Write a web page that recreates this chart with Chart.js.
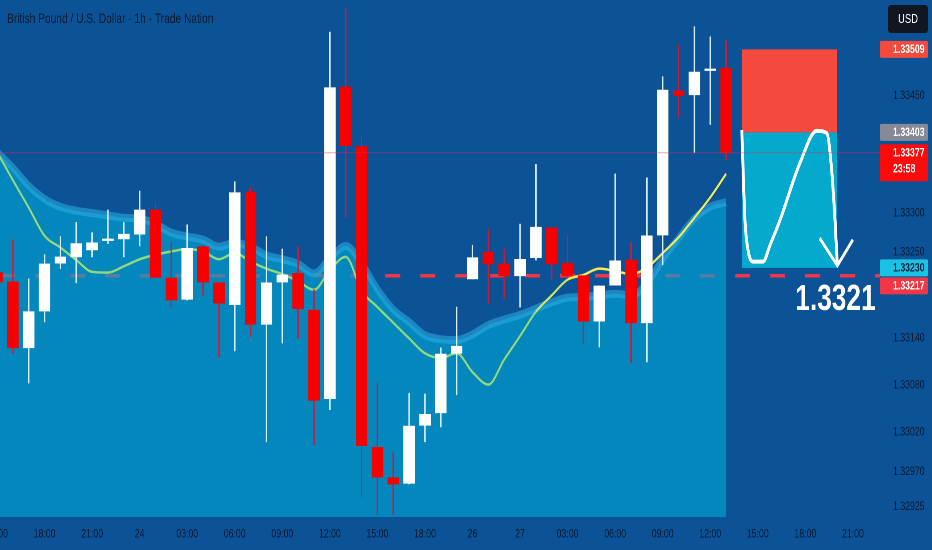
<!DOCTYPE html>
<html>
<head>
<meta charset="utf-8">
<script src="https://cdn.jsdelivr.net/npm/chart.js@4.4.1/dist/chart.umd.min.js"></script>
<style>
  html, body { margin: 0; padding: 0; background: #0b5296; overflow: hidden; width: 932px; height: 550px; }
  /* the chart is laid out on a wider canvas and squeezed to 932px, like the screenshot */
  #wrap { width: 1280px; height: 550px; position: relative; transform: scaleX(0.728125); transform-origin: 0 0; }
</style>
</head>
<body>
<div id="wrap"><canvas id="chart"></canvas></div>
<script>
const SX = 932 / 1280;
const wide = v => v / SX;
const FONT = '"Liberation Sans", Arial, sans-serif';

const titleText = 'British Pound / U.S. Dollar · 1h · Trade Nation';

// one candle per hour, index along the time axis
const candleIdx = [0,1,2,3,4,5,6,7,8,9,10,11,12,13,14,15,16,17,18,19,20,21,22,23,24,25,26,27,28,29,30,31,32,33,34,35,36,37,38,39,40,41,42,43,44,45,46];

const opens = [1.33224,1.33212,1.33128,1.33175,1.33236,1.33244,1.33253,1.33265,1.33267,1.33273,
  1.33304,1.33217,1.33190,1.33257,1.33211,1.33183,1.33327,1.33158,1.33212,1.33223,
  1.33176,1.33063,1.33461,1.33385,1.33001,1.32962,1.32955,1.33029,1.33045,1.33121,
  1.33216,1.33250,1.33235,1.33220,1.33243,1.33281,1.33236,1.33220,1.33162,1.33208,
  1.33240,1.33160,1.33272,1.33456,1.33451,1.33482,1.33485];
const highs = [1.33230,1.33266,1.33216,1.33247,1.33270,1.33288,1.33275,1.33304,1.33288,1.33328,
  1.33314,1.33262,1.33285,1.33258,1.33212,1.33340,1.33333,1.33270,1.33254,1.33257,
  1.33202,1.33531,1.33562,1.33397,1.33083,1.32995,1.33070,1.33069,1.33128,1.33180,
  1.33259,1.33280,1.33254,1.33286,1.33362,1.33282,1.33272,1.33220,1.33207,1.33350,
  1.33262,1.33345,1.33474,1.33515,1.33538,1.33525,1.33520];
const lows = [1.33207,1.33121,1.33083,1.33161,1.33229,1.33211,1.33244,1.33261,1.33244,1.33258,
  1.33217,1.33179,1.33189,1.33194,1.33116,1.33124,1.33142,1.33008,1.33134,1.33140,
  1.33004,1.33049,1.33294,1.32938,1.32915,1.32915,1.32954,1.33008,1.33027,1.33068,
  1.33216,1.33185,1.33190,1.33180,1.33240,1.33216,1.33219,1.33134,1.33129,1.33208,
  1.33109,1.33110,1.33234,1.33422,1.33377,1.33413,1.33368];
const closes = [1.33212,1.33128,1.33174,1.33235,1.33244,1.33261,1.33262,1.33267,1.33273,1.33304,
  1.33218,1.33189,1.33255,1.33212,1.33185,1.33326,1.33158,1.33211,1.33221,1.33178,
  1.33061,1.33460,1.33386,1.33003,1.32963,1.32954,1.33028,1.33043,1.33120,1.33130,
  1.33243,1.33235,1.33220,1.33241,1.33282,1.33235,1.33220,1.33162,1.33207,1.33239,
  1.33160,1.33271,1.33457,1.33450,1.33480,1.33484,1.33377];

// moving average line
const maValues = [1.33378,1.33342,1.33307,1.33271,1.33256,1.33240,1.33225,1.33224,1.33232,1.33241,
  1.33247,1.33251,1.33254,1.33251,1.33241,1.33249,1.33238,1.33229,1.33222,1.33213,
  1.33202,1.33227,1.33244,1.33201,1.33180,1.33160,1.33140,1.33121,1.33115,1.33121,
  1.33097,1.33081,1.33113,1.33143,1.33174,1.33195,1.33215,1.33221,1.33229,1.33226,
  1.33222,1.33230,1.33249,1.33269,1.33294,1.33320,1.33350];

// upper edge of the shaded band
const bandValues = [1.33378,1.33358,1.33335,1.33318,1.33308,1.33303,1.33300,1.33297,1.33294,1.33293,
  1.33286,1.33275,1.33270,1.33266,1.33257,1.33262,1.33257,1.33246,1.33241,1.33235,
  1.33223,1.33242,1.33258,1.33236,1.33203,1.33177,1.33161,1.33144,1.33139,1.33138,
  1.33145,1.33157,1.33164,1.33170,1.33178,1.33186,1.33192,1.33193,1.33195,1.33197,
  1.33195,1.33210,1.33241,1.33268,1.33293,1.33308,1.33314];

const lastPrice = 1.33377;
const levelPrice = 1.33220;
const targetText = '1.3321';

// short position tool: stop, entry, target, over candle index range
const positionFrom = 47, positionTo = 53;
const stopPrice = 1.33509, entryPrice = 1.33403, targetPrice = 1.33230;

// hand drawn arrow inside the position
const curveX = [46.99,47.19,47.38,47.7,48.33,48.77,49.4,50.66,51.72,52.35,52.66,52.87,53.02];
const curveY = [1.33406,1.33291,1.33253,1.33238,1.33238,1.33259,1.33291,1.33364,1.33405,1.33402,1.33355,1.33291,1.33233];
const headX = [51.9,53.02,54.0];
const headY = [1.33268,1.33233,1.33266];

const tickIdx = [0,3,6,9,12,15,18,21,24,27,30,33,36,39,42,45,48,51,54];
const tickText = ['15:00','18:00','21:00','24','03:00','06:00','09:00','12:00','15:00','18:00',
  '26','27','03:00','06:00','09:00','12:00','15:00','18:00','21:00'];
const priceTicks = [1.33450,1.33300,1.33250,1.33140,1.33080,1.33020,1.32970,1.32925];

const boxPrices = [1.33509,1.33403,1.33377,1.33230,1.33217];
const boxTexts = [['1.33509'],['1.33403'],['1.33377','23:58'],['1.33230'],['1.33217']];
const boxFill = ['#f44a3d','#878a96','#ff0a0a','#19c3e3','#f23645'];
const boxInk = ['#ffffff','#ffffff','#ffffff','#0d2342','#ffffff'];

const INK = '#0b1a30';
const GREEN = '#93d97c', YELLOW = '#f3ea55';

const pts = (xs, ys) => xs.map((v, k) => ({ x: v, y: ys[k] }));
const flat = (p) => [{ x: -2, y: p }, { x: 58, y: p }];

const overlay = {
  id: 'overlay',
  afterDraw(chart) {
    const { ctx, chartArea } = chart;
    const x = chart.scales.x, y = chart.scales.y;
    ctx.save();

    ctx.font = '14px ' + FONT;
    ctx.fillStyle = INK;
    ctx.textAlign = 'left';
    ctx.textBaseline = 'middle';
    ctx.fillText(titleText, wide(7), 19);

    // big target label
    ctx.font = 'bold 36px ' + FONT;
    ctx.fillStyle = '#ffffff';
    ctx.textAlign = 'center';
    ctx.fillText(targetText, x.getPixelForValue(52.9), y.getPixelForValue(1.33189));

    // price boxes on the axis
    ctx.font = 'bold 12px ' + FONT;
    ctx.textAlign = 'left';
    const order = boxPrices.map((p, k) => ({ k, py: y.getPixelForValue(p) })).sort((a, b) => a.py - b.py);
    let prevBottom = -Infinity;
    order.forEach(b => {
      const lines = boxTexts[b.k];
      const h = lines.length === 1 ? 17 : 37;
      let top = b.py - 8.5;
      if (top < prevBottom + 1) top = prevBottom + 1;
      prevBottom = top + h;
      ctx.fillStyle = boxFill[b.k];
      ctx.beginPath();
      ctx.roundRect(chartArea.right, top, wide(48), h, 2);
      ctx.fill();
      ctx.fillStyle = boxInk[b.k];
      lines.forEach((t, j) => ctx.fillText(t, chartArea.right + wide(13), top + 9 + j * 16));
    });

    ctx.fillStyle = '#121620';
    ctx.beginPath();
    ctx.roundRect(wide(888), 5, wide(40), 28, 4);
    ctx.fill();
    ctx.fillStyle = '#ffffff';
    ctx.font = '13px ' + FONT;
    ctx.textAlign = 'center';
    ctx.fillText('USD', wide(908), 19.5);
    ctx.restore();
  }
};

new Chart(document.getElementById('chart'), {
  type: 'bar',
  data: {
    datasets: [
      {
        type: 'line', label: 'last', data: flat(lastPrice),
        borderColor: 'rgba(225,45,70,0.45)', borderWidth: 1, pointRadius: 0, order: 0
      },
      {
        type: 'line', label: 'arrow', data: pts(curveX, curveY),
        borderColor: '#ffffff', borderWidth: 4, pointRadius: 0,
        cubicInterpolationMode: 'monotone', order: 0
      },
      {
        type: 'line', label: 'head', data: pts(headX, headY),
        borderColor: '#ffffff', borderWidth: 3.5, pointRadius: 0, tension: 0, order: 0
      },
      {
        label: 'body',
        data: candleIdx.map(i => ({ x: i, y: [opens[i], closes[i]] })),
        backgroundColor: candleIdx.map(i => closes[i] >= opens[i] ? '#ffffff' : '#f70000'),
        borderWidth: 0, grouped: false, barPercentage: 1, categoryPercentage: 1,
        maxBarThickness: wide(11), order: 1
      },
      {
        label: 'wick',
        data: candleIdx.map(i => ({ x: i, y: [lows[i], highs[i]] })),
        backgroundColor: candleIdx.map(i => closes[i] >= opens[i] ? '#d6ecff' : '#c81e3c'),
        borderWidth: 0, grouped: false, barPercentage: 1, categoryPercentage: 1,
        maxBarThickness: wide(1), order: 2
      },
      {
        type: 'line', label: 'ma', data: pts(candleIdx, maValues),
        borderWidth: 2.5, pointRadius: 0, cubicInterpolationMode: 'monotone', order: 3,
        segment: {
          borderColor: c => c.p0DataIndex >= 36 ? YELLOW : (c.p0DataIndex >= 34 ? '#c6e46a' : GREEN)
        }
      },
      {
        type: 'line', label: 'stop', data: [{ x: positionFrom, y: stopPrice }, { x: positionTo, y: stopPrice }],
        borderColor: 'transparent', pointRadius: 0, fill: '+1', backgroundColor: '#f44a3d', order: 4
      },
      {
        type: 'line', label: 'entry', data: [{ x: positionFrom, y: entryPrice }, { x: positionTo, y: entryPrice }],
        borderColor: 'transparent', pointRadius: 0, fill: '+1', backgroundColor: '#04aacd', order: 4
      },
      {
        type: 'line', label: 'target', data: [{ x: positionFrom, y: targetPrice }, { x: positionTo, y: targetPrice }],
        borderColor: 'transparent', pointRadius: 0, fill: false, order: 4
      },
      {
        type: 'line', label: 'band', data: pts(candleIdx, bandValues),
        borderColor: 'rgba(45,175,228,0.55)', borderWidth: 8, pointRadius: 0,
        cubicInterpolationMode: 'monotone',
        fill: 'start', backgroundColor: 'rgba(0,165,210,0.65)', order: 5
      },
      {
        type: 'line', label: 'level', data: flat(levelPrice),
        borderColor: '#f23645', borderWidth: 3.5, borderDash: [wide(15), wide(20)], borderDashOffset: 0,
        pointRadius: 0, order: 6
      }
    ]
  },
  options: {
    responsive: true,
    maintainAspectRatio: false,
    devicePixelRatio: 2,
    animation: false,
    layout: { padding: 0, autoPadding: false },
    plugins: { legend: { display: false }, tooltip: { enabled: false } },
    scales: {
      x: {
        type: 'linear', offset: false, min: 0.19, max: 55.71,
        grid: { display: false, drawTicks: false }, border: { display: false },
        afterBuildTicks: s => { s.ticks = tickIdx.map(v => ({ value: v })); },
        afterFit: s => { s.height = 33; s.paddingLeft = 0; s.paddingRight = 0; },
        ticks: {
          autoSkip: false, maxRotation: 0, padding: 10, color: INK,
          font: { family: FONT, size: 12 },
          callback: (v, k) => tickText[k]
        }
      },
      y: {
        type: 'linear', position: 'right', beginAtZero: false, min: 1.32912, max: 1.33572,
        grid: { display: false, drawTicks: false }, border: { display: false },
        afterBuildTicks: s => { s.ticks = priceTicks.map(v => ({ value: v })); },
        afterFit: s => { s.width = wide(52); s.paddingTop = 0; s.paddingBottom = 0; },
        ticks: {
          padding: wide(13), color: INK,
          font: { family: FONT, size: 12 },
          callback: v => v.toFixed(5)
        }
      }
    }
  },
  plugins: [overlay]
});
</script>
</body>
</html>
